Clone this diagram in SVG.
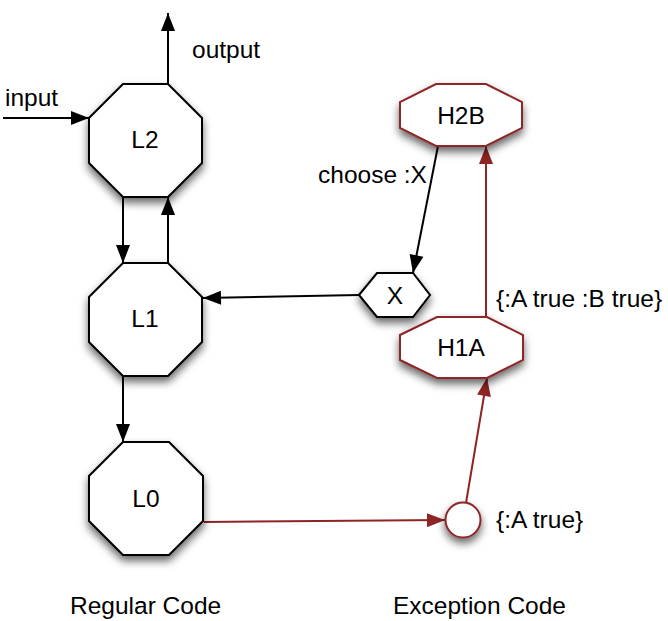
<svg xmlns="http://www.w3.org/2000/svg" width="668" height="621" viewBox="0 0 668 621">
<style>
text{font-family:"Liberation Sans",Arial,Helvetica,sans-serif;font-size:24.5px;fill:#000}
.c{text-anchor:middle}
.blk{fill:#fff;stroke:#000;stroke-width:2;stroke-linejoin:miter}
.red{fill:#fff;stroke:#8e2525;stroke-width:2}
.lb{fill:none;stroke:#000;stroke-width:2}
.lr{fill:none;stroke:#8e2525;stroke-width:2}
</style>
<defs>
<filter id="sh" x="-30%" y="-30%" width="160%" height="170%">
<feDropShadow dx="0" dy="5" stdDeviation="4" flood-color="#000" flood-opacity="0.6"/>
</filter>
<marker id="ab" markerUnits="userSpaceOnUse" markerWidth="20" markerHeight="16" viewBox="0 0 20 16" refX="19" refY="8" orient="auto">
<path d="M1,1 L19,8 L1,15 Z" fill="#000"/>
</marker>
<marker id="ar" markerUnits="userSpaceOnUse" markerWidth="20" markerHeight="16" viewBox="0 0 20 16" refX="19" refY="8" orient="auto">
<path d="M1,1 L19,8 L1,15 Z" fill="#8e2525"/>
</marker>
</defs>

<g id="connectors">
<line class="lb" x1="3" y1="118" x2="89" y2="118" marker-end="url(#ab)"/>
<line class="lb" x1="168" y1="84" x2="168" y2="13" marker-end="url(#ab)"/>
<line class="lb" x1="123" y1="197" x2="123" y2="263" marker-end="url(#ab)"/>
<line class="lb" x1="168" y1="263" x2="168" y2="197" marker-end="url(#ab)"/>
<line class="lb" x1="123" y1="376" x2="123" y2="442" marker-end="url(#ab)"/>
<line class="lb" x1="359" y1="295" x2="203" y2="298" marker-end="url(#ab)"/>
<line class="lb" x1="438" y1="146" x2="413" y2="273" marker-end="url(#ab)"/>
<line class="lr" x1="204" y1="522" x2="445" y2="520" marker-end="url(#ar)"/>
<line class="lr" x1="466" y1="503" x2="487" y2="378" marker-end="url(#ar)"/>
<line class="lr" x1="486" y1="317" x2="486" y2="146" marker-end="url(#ar)"/>
</g>

<g id="L2">
<polygon class="blk" filter="url(#sh)" points="123,84 168,84 202,118 202,163 168,197 123,197 89,163 89,118"/>
<text class="c" x="145" y="148">L2</text>
</g>
<g id="L1">
<polygon class="blk" filter="url(#sh)" points="123,263 168,263 202,297 202,342 168,376 123,376 89,342 89,297"/>
<text class="c" x="145" y="327">L1</text>
</g>
<g id="L0">
<polygon class="blk" filter="url(#sh)" points="123,442 169,442 203,476 203,521 169,555 123,555 89,521 89,476"/>
<text class="c" x="146" y="507">L0</text>
</g>
<g id="H2B">
<polygon class="red" filter="url(#sh)" points="436,84 486,84 522,102 522,128 486,146 436,146 400,128 400,102"/>
<text class="c" x="461" y="124">H2B</text>
</g>
<g id="H1A">
<polygon class="red" filter="url(#sh)" points="437,317 487,317 523,335 523,360 487,378 437,378 400,360 400,335"/>
<text class="c" x="461" y="356">H1A</text>
</g>
<g id="X">
<polygon class="blk" filter="url(#sh)" points="359,295 377,273 413,273 430,295 413,317 377,317"/>
<text class="c" x="395" y="304">X</text>
</g>
<g id="exc">
<circle class="red" filter="url(#sh)" cx="463" cy="520" r="17.5"/>
</g>

<g id="labels">
<text x="5" y="106">input</text>
<text x="192" y="58">output</text>
<text x="318" y="183">choose :X</text>
<text x="496" y="307">{:A true :B true}</text>
<text x="496" y="528">{:A true}</text>
<text x="70" y="614">Regular Code</text>
<text x="393" y="614">Exception Code</text>
</g>
</svg>
